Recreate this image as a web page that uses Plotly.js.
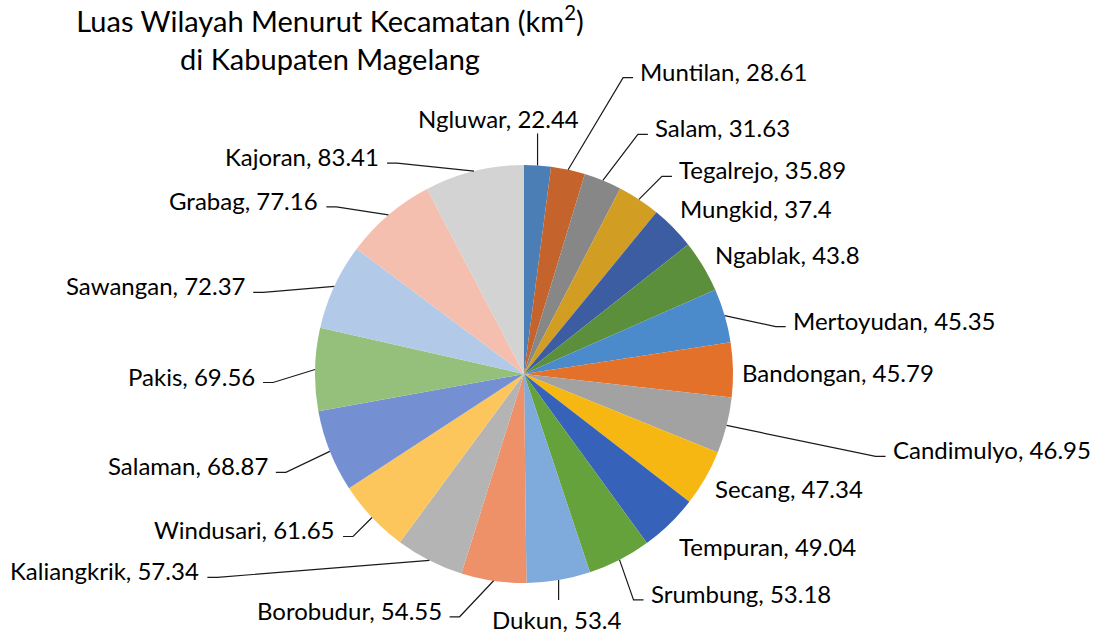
<!DOCTYPE html>
<html>
<head>
<meta charset="utf-8">
<script src="https://cdn.plot.ly/plotly-3.0.1.min.js"></script>
<style>html,body{margin:0;padding:0;background:#fff;}#chart{width:1095px;height:633px;}</style>
</head>
<body>
<div id="chart"></div>
<script>
// ---- data ----
const kecamatan = ["Ngluwar","Muntilan","Salam","Tegalrejo","Mungkid","Ngablak","Mertoyudan","Bandongan","Candimulyo","Secang","Tempuran","Srumbung","Dukun","Borobudur","Kaliangkrik","Windusari","Salaman","Pakis","Sawangan","Grabag","Kajoran"];
const luas = [22.44,28.61,31.63,35.89,37.4,43.8,45.35,45.79,46.95,47.34,49.04,53.18,53.4,54.55,57.34,61.65,68.87,69.56,72.37,77.16,83.41];

// ---- styles ----
const warna = ["#4a7eb5","#c4642c","#878787","#d19d22","#3c5da2","#5b8f3c","#4b8bcc","#e3712a","#a2a2a2","#f7b712","#3762b9","#66a23c","#7eaadc","#ee9168","#b4b4b4","#fcc65c","#7590d2","#94c07b","#b3c9e8","#f4bfae","#d3d3d3"];
const W = 1095, H = 633;
const FONT = "Lato, 'Open Sans', sans-serif";
const domX = [315/W, 733/W], domY = [50/H, 468/H];

// label layout: offset (px) of the leader-line end from the slice's outer mid-point,
// side of the text, whether a leader line is drawn, extra x shift for top/bottom labels
const labelLayout = [
  {dx:0,dy:-32,side:"t",line:true,shift:-39},   // Ngluwar
  {dx:65,dy:-92,side:"r",line:true},            // Muntilan
  {dx:45,dy:-46,side:"r",line:true},            // Salam
  {dx:33,dy:-23,side:"r",line:true},            // Tegalrejo
  {dx:0,dy:-13,side:"r",line:false},            // Mungkid
  {dx:5,dy:-5,side:"r",line:false},             // Ngablak
  {dx:61,dy:11,side:"r",line:true},             // Mertoyudan
  {dx:2,dy:9,side:"r",line:false},              // Bandongan
  {dx:159,dy:31,side:"r",line:true},            // Candimulyo
  {dx:3,dy:17,side:"r",line:false},             // Secang
  {dx:2,dy:29,side:"r",line:false},             // Tempuran
  {dx:24,dy:40,side:"r",line:true},             // Srumbung
  {dx:0,dy:20,side:"b",line:true,shift:-2},     // Dukun
  {dx:-44,dy:36,side:"l",line:true},            // Borobudur
  {dx:-222,dy:17,side:"l",line:true},           // Kaliangkrik
  {dx:-29,dy:19,side:"l",line:true},            // Windusari
  {dx:-54,dy:21,side:"l",line:true},            // Salaman
  {dx:-52,dy:13,side:"l",line:true},            // Pakis
  {dx:-81,dy:6,side:"l",line:true},             // Sawangan
  {dx:-62,dy:-8,side:"l",line:true},            // Grabag
  {dx:-87,dy:-8,side:"l",line:true}             // Kajoran
];

// ---- geometry derived from the pie domain & data ----
const cx = (domX[0]+domX[1])/2*W;
const cy = H - (domY[0]+domY[1])/2*H;
const r = Math.min((domX[1]-domX[0])*W, (domY[1]-domY[0])*H)/2;
const total = luas.reduce((a,b)=>a+b,0);
const px = x => x/W, py = y => 1 - y/H;

const annotations = [], shapes = [];
let cum = 0;
luas.forEach((v,i)=>{
  const th = (cum + v/2)/total*2*Math.PI;
  cum += v;
  const ex = cx + r*Math.sin(th), ey = cy - r*Math.cos(th);
  const L = labelLayout[i];
  const ax = ex + L.dx, ay = ey + L.dy;
  const txt = kecamatan[i] + ", " + luas[i];
  let tx, ty, xa;
  if (L.side === "r") { tx = ax + 5; ty = ay - 6.5; xa = "left"; }
  else if (L.side === "l") { tx = ax - 6; ty = ay - 6.5; xa = "right"; }
  else if (L.side === "t") { tx = ax + (L.shift||0); ty = ay - 15; xa = "center"; }
  else { tx = ax + (L.shift||0); ty = ay + 19.5; xa = "center"; }
  annotations.push({
    text: txt, x: px(tx), y: py(ty), xref: "paper", yref: "paper",
    xanchor: xa, yanchor: "middle", showarrow: false,
    font: {family: FONT, size: 24, color: "#000"}
  });
  if (L.line) {
    let path;
    if (L.side === "r") path = `M${px(ex)},${py(ey)} L${px(ax-10)},${py(ay)} L${px(ax)},${py(ay)}`;
    else if (L.side === "l") path = `M${px(ex)},${py(ey)} L${px(ax+10)},${py(ay)} L${px(ax)},${py(ay)}`;
    else path = `M${px(ex)},${py(ey)} L${px(ax)},${py(ay)}`;
    shapes.push({type: "path", path: path, xref: "paper", yref: "paper",
      line: {color: "#1a1a1a", width: 1.2}});
  }
});

const trace = {
  type: "pie",
  labels: kecamatan,
  values: luas,
  sort: false,
  direction: "clockwise",
  rotation: 0,
  marker: {colors: warna, line: {color: "#ffffff", width: 0}},
  textinfo: "none",
  hoverinfo: "label+value",
  showlegend: false,
  domain: {x: domX, y: domY}
};

const layout = {
  width: W, height: H,
  margin: {l: 0, r: 0, t: 0, b: 0},
  paper_bgcolor: "#ffffff",
  title: {
    text: "Luas Wilayah Menurut Kecamatan (km<sup>2</sup>)<br>di Kabupaten Magelang",
    x: 330/W, xanchor: "center", y: 1 - 32/H, yanchor: "top",
    font: {family: FONT, size: 29, color: "#000"}
  },
  annotations: annotations,
  shapes: shapes
};
Plotly.newPlot("chart", [trace], layout, {displayModeBar: false});
</script>
</body>
</html>
